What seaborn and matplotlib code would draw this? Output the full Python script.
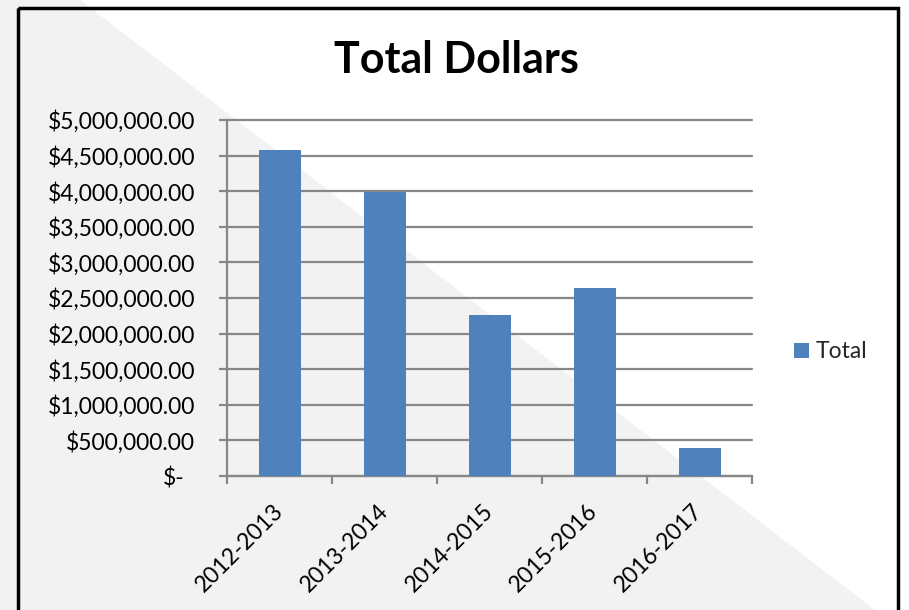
import matplotlib
matplotlib.use("Agg")
import matplotlib.pyplot as plt
import matplotlib.transforms as mtransforms
from matplotlib.patches import Polygon, Rectangle
from matplotlib.ticker import FuncFormatter, FixedLocator
import seaborn as sns
import pandas as pd

# Fiscal years and totals
years = ["2012-2013", "2013-2014", "2014-2015", "2015-2016", "2016-2017"]
totals = [4580000, 3990000, 2260000, 2645000, 400000]
series_name = "Total"
y_ticks = [0, 500000, 1000000, 1500000, 2000000, 2500000,
           3000000, 3500000, 4000000, 4500000, 5000000]

df = pd.DataFrame({"Year": years, series_name: totals})

sns.set_theme(style="white")
plt.rcParams["font.family"] = ["Lato", "DejaVu Sans"]

W, H = 909, 610
LABEL_SIZE = 16.5
fig = plt.figure(figsize=(W / 100, H / 100), dpi=100)
fig.patch.set_facecolor("white")

# Background layer: diagonal grey wash and chart frame (pixel coordinates)
bg = fig.add_axes([0, 0, 1, 1], zorder=-5)
bg.set_xlim(0, W)
bg.set_ylim(H, 0)
bg.axis("off")
bg.add_patch(Polygon([(0, 0), (80, 0), (875, H), (0, H)],
                     closed=True, facecolor="#f2f2f2", edgecolor="none"))
bg.add_patch(Rectangle((18, 8), 880, 640, fill=False,
                       edgecolor="black", linewidth=2.5))

# Plot area
ax = fig.add_axes([227 / W, 1 - 476 / H, (752 - 227) / W, (476 - 120) / H])
ax.patch.set_alpha(0)

sns.barplot(data=df, x="Year", y=series_name, color="#4f81bd",
            width=0.4, saturation=1, linewidth=0, ax=ax,
            label=series_name, zorder=3)

ax.set_ylim(0, 5000000)
ax.set_xlim(-0.5, len(years) - 0.5)
ax.yaxis.set_major_locator(FixedLocator(y_ticks))


def money(v, pos):
    if v == 0:
        return "$-"
    return "${:,.2f}".format(v)


ax.yaxis.set_major_formatter(FuncFormatter(money))
ax.grid(axis="y", color="#878787", linewidth=1.6, zorder=1)
ax.set_axisbelow(True)
for gl in ax.get_ygridlines():
    gl.set_clip_on(False)
ax.set_xlabel("")
ax.set_ylabel("")

for side in ["top", "right"]:
    ax.spines[side].set_visible(False)
for side in ["left", "bottom"]:
    ax.spines[side].set_color("#878787")
    ax.spines[side].set_linewidth(1.6)

ax.tick_params(axis="y", which="major", length=6, width=1.6, color="#878787",
               pad=17, labelsize=LABEL_SIZE, labelcolor="black", left=True)
ax.tick_params(axis="x", which="major", length=0, pad=23,
               labelsize=LABEL_SIZE, labelcolor="black")
# Category boundary ticks on the x axis
ax.set_xticks([i - 0.5 for i in range(len(years) + 1)], minor=True)
ax.tick_params(axis="x", which="minor", length=6, width=1.6,
               color="#878787", bottom=True)

for lbl in ax.get_xticklabels():
    lbl.set_rotation(45)
    lbl.set_ha("right")
    lbl.set_va("center")
    lbl.set_rotation_mode("anchor")

# Accounting-style offset for the zero label
for lbl in ax.get_yticklabels():
    if lbl.get_text() == "$-":
        lbl.set_transform(lbl.get_transform() +
                          mtransforms.ScaledTranslation(-0.11, 0, fig.dpi_scale_trans))

fig.text(456 / W, 1 - 60 / H, "Total Dollars", ha="center", va="center",
         fontsize=31, fontweight="bold", color="black")

fig.legend(handles=ax.patches[:1], labels=[series_name],
           loc="center left", bbox_to_anchor=(794 / W, 1 - 352 / H),
           frameon=False, fontsize=LABEL_SIZE, handlelength=0.65,
           handleheight=0.65, handletextpad=0.3, borderpad=0,
           borderaxespad=0)
if ax.get_legend() is not None:
    ax.get_legend().remove()

fig.savefig("out.png", dpi=100)
